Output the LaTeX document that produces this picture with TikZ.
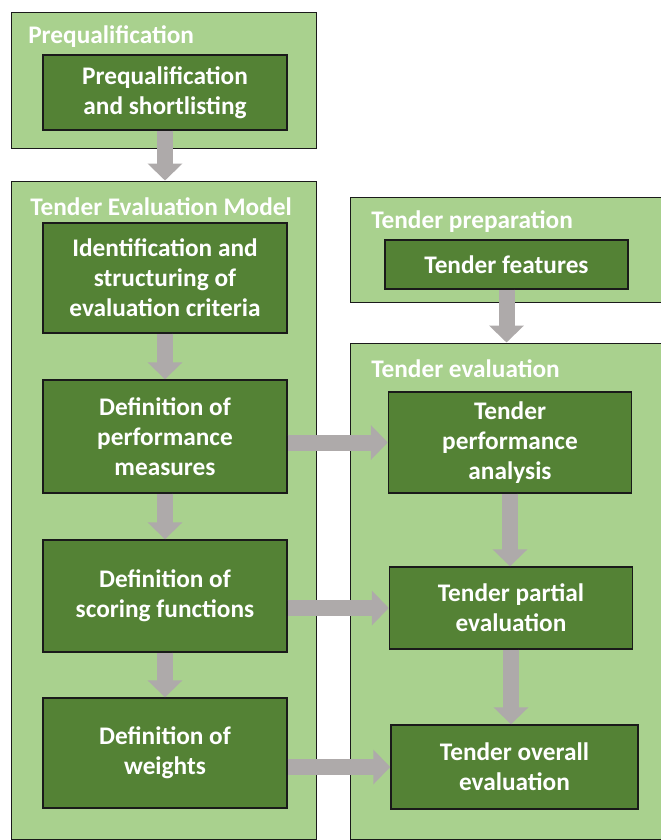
\documentclass[tikz,border=0pt]{standalone}
\usepackage{fontspec}
\setmainfont{Carlito}
\usetikzlibrary{arrows.meta,positioning,fit}
\definecolor{tevLeaf}{HTML}{A9D18E}
\definecolor{tevMoss}{HTML}{548235}
\definecolor{tevInk}{HTML}{1A1A1A}
\definecolor{tevArrow}{HTML}{AEAAAA}
\tikzset{
  tev/text/.style={font=\fontsize{18}{21.3}\selectfont\bfseries, text=white},
  tev/stage/.style={draw=tevInk, line width=0.7pt, fill=tevLeaf, inner sep=0pt},
  tev/task/.style={tev/text, draw=tevInk, line width=1pt, fill=tevMoss,
    align=center, inner sep=0pt},
  tev/title/.style={tev/text, anchor=west, inner sep=0pt},
  tev/flow/.style={-{Triangle[length=0.42cm,width=0.84cm]}, draw=tevArrow,
    line width=0.4cm},
}

\begin{document}
\begin{tikzpicture}[
    x=0.025cm, y=-0.025cm,
    stage/.style={tev/stage},
    task/.style={tev/task},
    title/.style={tev/title},
    flow/.style={tev/flow},
]
\useasboundingbox (0,0) rectangle (661,840);

% Stage frames; the two lower ones run off the page.
\node[stage, fit={(11,12) (316,148)}] (preqStage) {};
\node[stage, fit={(11,181) (316,839)}] (modelStage) {};
\node[stage, fit={(350,197) (665,302)}] (prepStage) {};
\node[stage, fit={(350,343) (665,839)}] (evalStage) {};

\node[title] (preqTitle) at (28,37) {Prequalification};
\node[title] (modelTitle) at (30,207) {Tender Evaluation Model};
\node[title] (prepTitle) at (371,222) {Tender preparation};
\node[title] (evalTitle) at (371,369) {Tender evaluation};

% Left column
\node[task, minimum width=6.1cm, minimum height=1.875cm] (preqBox) at (165,92.5)
  {Prequalification\\and shortlisting};
\node[task, minimum width=6.1cm, minimum height=2.75cm] (idBox) at (165,278)
  {Identification and\\structuring of\\evaluation criteria};
\node[task, minimum width=6.1cm, minimum height=2.825cm] (perfBox) at (165,436.5)
  {Definition of\\performance\\measures};
\node[task, minimum width=6.1cm, minimum height=2.8cm] (scorBox) at (165,596)
  {Definition of\\scoring functions};
\node[task, minimum width=6.1cm, minimum height=2.75cm] (wgtBox) at (165,753)
  {Definition of\\weights};

% Right column
\node[task, minimum width=6.075cm, minimum height=1.225cm] (featBox) at (506.5,264.5)
  {Tender features};
\node[task, minimum width=6.075cm, minimum height=2.525cm] (tpaBox) at (510,442.5)
  {Tender\\performance\\analysis};
\node[task, minimum width=6.075cm, minimum height=2.05cm] (tpeBox) at (511,608)
  {Tender partial\\evaluation};
\node[task, minimum width=6.175cm, minimum height=2.1cm] (toeBox) at (514.5,767)
  {Tender overall\\evaluation};

\draw[flow] (preqBox.south) -- (preqBox.south |- modelStage.north);
\draw[flow] (idBox.south) -- (perfBox.north);
\draw[flow] (perfBox.south) -- (scorBox.north);
\draw[flow] (scorBox.south) -- (wgtBox.north);

\draw[flow] (featBox.south) -- (featBox.south |- evalStage.north);
\draw[flow] (tpaBox.south) -- (tpaBox.south |- tpeBox.north);
\draw[flow] (tpeBox.south) -- (tpeBox.south |- toeBox.north);

\draw[flow] (perfBox.east |- tpaBox.west) -- (tpaBox.west);
\draw[flow] (scorBox.east |- tpeBox.west) -- (tpeBox.west);
\draw[flow] (wgtBox.east |- toeBox.west) -- (toeBox.west);
\end{tikzpicture}
\end{document}
